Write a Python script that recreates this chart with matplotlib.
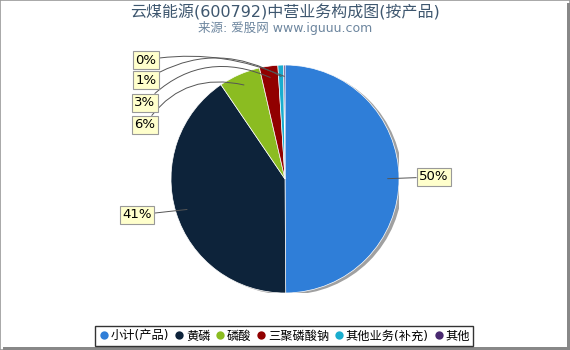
import matplotlib.pyplot as plt
from matplotlib.lines import Line2D
from matplotlib.patches import Rectangle, Circle
import numpy as np

plt.rcParams['font.family'] = ['DejaVu Sans', 'Noto Sans CJK SC']

# data
categories = ['小计(产品)', '黄磷', '磷酸', '三聚磷酸钠', '其他业务(补充)', '其他']
values = [49.9, 40.6, 5.9, 2.6, 0.8, 0.2]
colors = ['#2f7ed8', '#0d233a', '#8bbc21', '#910000', '#1aadce', '#492970']
# label text positions (figure pixels from top-left)
label_pos = [(434, 177), (137, 215), (145, 125), (145, 103), (146, 80), (146, 60)]
label_rad = [0, 0, -0.35, -0.35, -0.3, -0.15]

W, H = 570, 350
fig = plt.figure(figsize=(W / 100, H / 100), dpi=100)

# border with shadow
fig.patches.append(Rectangle((0, 0), 1, 1, transform=fig.transFigure, fill=False,
                             edgecolor='#999999', linewidth=1.2))
fig.patches.append(Rectangle((3 / W, 0), 1 - 3 / W, 3 / H, transform=fig.transFigure,
                             facecolor='#888888', edgecolor='none'))
fig.patches.append(Rectangle((1 - 3 / W, 0), 3 / W, 1 - 3 / H, transform=fig.transFigure,
                             facecolor='#888888', edgecolor='none'))

fig.text(0.5, 1 - 12 / H, '云煤能源(600792)中营业务构成图(按产品)', ha='center', va='center',
         fontsize=11.5, color='#3e576f')
fig.text(0.5, 1 - 28 / H, '来源: 爱股网 www.iguuu.com', ha='center', va='center',
         fontsize=9, color='#6d869f')

cx, cy, r = 285, 179, 114
ax = fig.add_axes([(cx - r) / W, (H - cy - r) / H, 2 * r / W, 2 * r / H])
ax.axis('off')

# shadow
ax.add_patch(Circle((0.03, -0.015), 1.0, facecolor='#888888', edgecolor='none', alpha=0.8, zorder=0))

wedges, _ = ax.pie(values, colors=colors, startangle=90, counterclock=False, radius=1,
                   wedgeprops=dict(edgecolor='white', linewidth=0.5), center=(0, 0))
for w in wedges:
    w.set_zorder(2)
ax.set_xlim(-1, 1)
ax.set_ylim(-1, 1)
ax.set_aspect('equal')

for w, v, (lx, ly), rad in zip(wedges, values, label_pos, label_rad):
    mid = np.deg2rad((w.theta1 + w.theta2) / 2)
    px, py = 0.9 * np.cos(mid), 0.9 * np.sin(mid)
    ax.annotate('%.0f%%' % v, xy=(px, py), xycoords='data',
                xytext=(lx, H - ly), textcoords='figure pixels',
                ha='center', va='center', fontsize=9.5, color='black',
                bbox=dict(boxstyle='square,pad=0.2', facecolor='#ffffcc', edgecolor='#999999', linewidth=0.8),
                arrowprops=dict(arrowstyle='-', color='#555555', linewidth=0.7,
                                connectionstyle='arc3,rad=%s' % rad, shrinkA=0, shrinkB=0),
                zorder=5, annotation_clip=False)

handles = [Line2D([], [], marker='o', linestyle='none', markersize=6, markerfacecolor=c,
                  markeredgecolor='none') for c in colors]
leg = fig.legend(handles, categories, loc='center', bbox_to_anchor=(284 / W, 1 - 336 / H), ncol=6,
                 fontsize=8.8, frameon=True, fancybox=False, handletextpad=0.05, columnspacing=0.3,
                 handlelength=1.0, borderpad=0.3, borderaxespad=0)
leg.get_frame().set_edgecolor('black')
leg.get_frame().set_linewidth(1)

fig.savefig('out.png', dpi=100)
